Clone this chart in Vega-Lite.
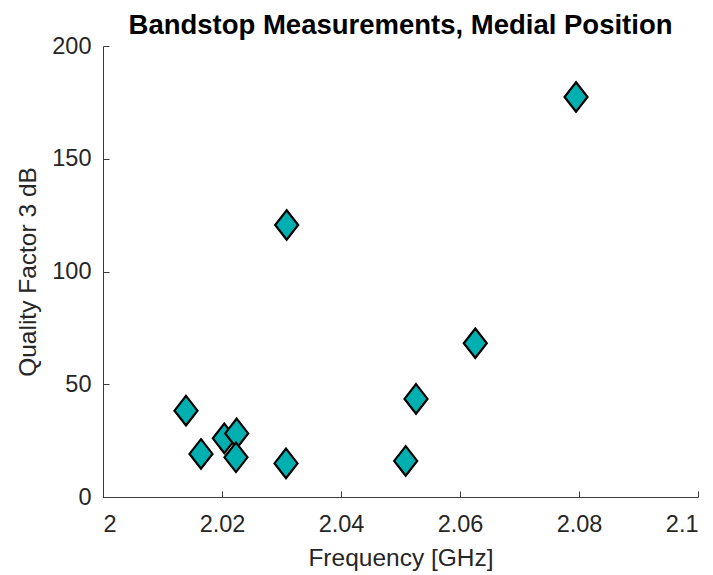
{
  "$schema": "https://vega.github.io/schema/vega-lite/v6.json",
  "width": 595,
  "height": 451,
  "autosize": "none",
  "padding": {"left": 103, "top": 46, "right": 15, "bottom": 78},
  "background": "white",
  "title": {
    "text": "Bandstop Measurements, Medial Position",
    "font": "Liberation Sans",
    "fontSize": 27.5,
    "fontWeight": "bold",
    "color": "#000000",
    "baseline": "bottom",
    "offset": 0,
    "dy": 33,
    "anchor": "middle"
  },
  "config": {
    "view": {"stroke": null},
    "axis": {
      "domainColor": "#3a3a3a",
      "tickColor": "#3a3a3a",
      "labelColor": "#262626",
      "titleColor": "#262626",
      "labelFont": "Liberation Sans",
      "titleFont": "Liberation Sans",
      "labelFontSize": 23.5,
      "titleFontSize": 24.5,
      "titleFontWeight": "normal",
      "grid": false,
      "domainWidth": 1,
      "tickWidth": 1
    }
  },
  "data": {
    "values": [
      {"freq": 2.01395, "q": 38.3},
      {"freq": 2.01647, "q": 19.1},
      {"freq": 2.02039, "q": 26.0},
      {"freq": 2.02247, "q": 28.2},
      {"freq": 2.02235, "q": 17.6},
      {"freq": 2.03076, "q": 14.9},
      {"freq": 2.03087, "q": 120.6},
      {"freq": 2.05087, "q": 16.0},
      {"freq": 2.05261, "q": 43.5},
      {"freq": 2.06257, "q": 68.2},
      {"freq": 2.0795, "q": 177.4}
    ]
  },
  "layer": [
    {
      "mark": {"type": "point", "opacity": 0, "size": 1},
      "encoding": {
        "x": {
          "field": "freq",
          "type": "quantitative",
          "scale": {"domain": [2, 2.1], "nice": false, "zero": false},
          "axis": {
            "orient": "top",
            "offset": -451,
            "title": null,
            "labels": false,
            "domain": false,
            "tickSize": 6,
            "values": [2, 2.02, 2.04, 2.06, 2.08, 2.1]
          }
        },
        "y": {
          "field": "q",
          "type": "quantitative",
          "scale": {"domain": [0, 200], "nice": false},
          "axis": {
            "orient": "right",
            "offset": -595,
            "title": null,
            "labels": false,
            "domain": false,
            "tickSize": 6,
            "values": [0, 50, 100, 150, 200]
          }
        }
      }
    },
    {
      "mark": {
        "type": "point",
        "shape": "M0,-1L0.78,0L0,1L-0.78,0Z",
        "size": 870,
        "filled": true,
        "fill": "#00B0B0",
        "stroke": "#000000",
        "strokeWidth": 2.2,
        "opacity": 1
      },
      "encoding": {
        "x": {
          "field": "freq",
          "type": "quantitative",
          "scale": {"domain": [2, 2.1], "nice": false, "zero": false},
          "axis": {
            "orient": "bottom",
            "title": "Frequency [GHz]",
            "values": [2, 2.02, 2.04, 2.06, 2.08, 2.1],
            "labelExpr": "datum.value == 2 ? '2' : datum.value == 2.1 ? '2.1' : format(datum.value, '.2f')",
            "tickSize": 0,
            "labelPadding": 15,
            "titlePadding": 11
          }
        },
        "y": {
          "field": "q",
          "type": "quantitative",
          "scale": {"domain": [0, 200], "nice": false},
          "axis": {
            "orient": "left",
            "title": "Quality Factor 3 dB",
            "values": [0, 50, 100, 150, 200],
            "tickSize": 0,
            "labelPadding": 12,
            "titlePadding": 11
          }
        }
      }
    }
  ],
  "resolve": {
    "scale": {"x": "independent", "y": "independent"},
    "axis": {"x": "independent", "y": "independent"}
  }
}
